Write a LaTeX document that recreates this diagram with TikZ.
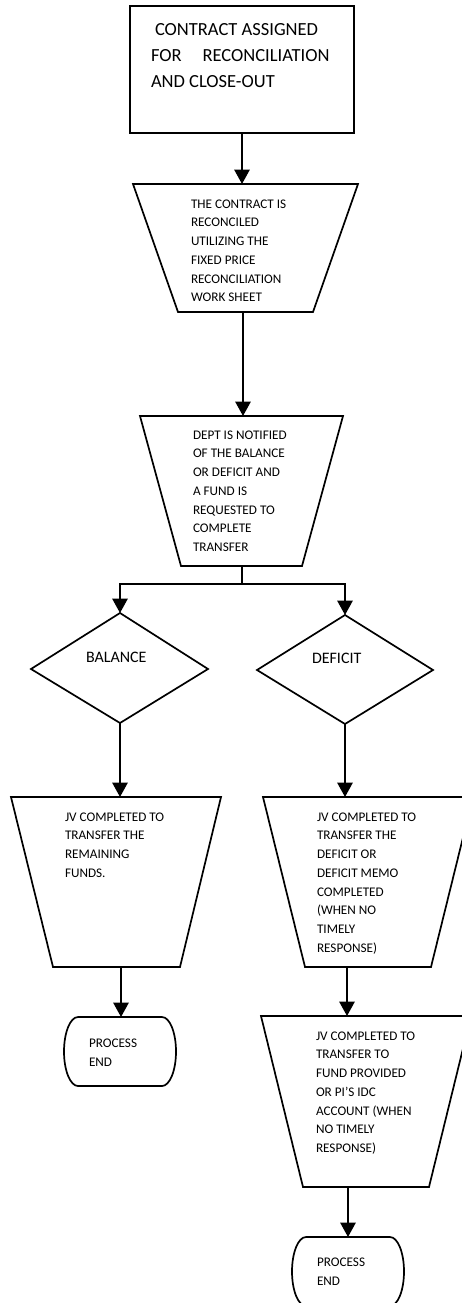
\documentclass[tikz,border=0pt]{standalone}
\usepackage{fontspec}
\setmainfont{Carlito}
\usetikzlibrary{arrows.meta}
\tikzset{
  shapeline/.style={line width=1.7pt, line join=miter},
  conn/.style={line width=1.7pt, -{Triangle[width=15.5pt,length=14.5pt]}},
  plainconn/.style={line width=1.7pt},
  smalltxt/.style={anchor=north west, inner sep=0pt, outer sep=0pt, align=left, font=\fontsize{13.2}{18.7}\selectfont},
  endtxt/.style={anchor=north west, inner sep=0pt, outer sep=0pt, align=left, font=\fontsize{13.2}{18.2}\selectfont},
  bigtxt/.style={anchor=north west, inner sep=0pt, outer sep=0pt, align=left, font=\fontsize{18.5}{26}\selectfont},
  dtxt/.style={anchor=north west, inner sep=0pt, outer sep=0pt, font=\fontsize{16}{19}\selectfont},
  startbox/.style={draw, line width=1.7pt, minimum width=224pt, minimum height=127pt, inner sep=0pt, outer sep=0pt},
}
\begin{document}
\begin{tikzpicture}[x=1pt, y=-1pt]
\clip (0,0) rectangle (462,1303);
\fill[white] (0,0) rectangle (462,1303);

% start box
\node[startbox] (start) at (242,69.5) {};
\node[bigtxt] (starttxt) at (151,23) {\hspace{4pt}CONTRACT ASSIGNED\\FOR\hspace{21pt}RECONCILIATION\\AND CLOSE-OUT};

% trapezoid 1
\draw[shapeline] (133,184) -- (358,184) -- (313,312) -- (178,312) -- cycle;
\coordinate (t1n) at (243,184);
\coordinate (t1s) at (243,312);
\node[smalltxt] (t1txt) at (191,199.7) {THE CONTRACT IS\\RECONCILED\\UTILIZING THE\\FIXED PRICE\\RECONCILIATION\\WORK SHEET};

% trapezoid 2
\draw[shapeline] (140,416) -- (343,416) -- (302,566) -- (181,566) -- cycle;
\coordinate (t2n) at (243,416);
\coordinate (t2s) at (242,566);
\node[smalltxt] (t2txt) at (193,430.7) {DEPT IS NOTIFIED\\OF THE BALANCE\\OR DEFICIT AND\\A FUND IS\\REQUESTED TO\\COMPLETE\\TRANSFER};
\coordinate (split) at (242,584);

% diamonds
\draw[shapeline] (120,613) -- (208,669) -- (120,723) -- (31,669) -- cycle;
\coordinate (baln) at (120,613);
\coordinate (bals) at (120,723);
\node[dtxt] (baltxt) at (86,651.7) {BALANCE};
\draw[shapeline] (345,615) -- (433,670) -- (345,724) -- (257,670) -- cycle;
\coordinate (defn) at (345,615);
\coordinate (defs) at (345,724);
\node[dtxt] (deftxt) at (312,652.7) {DEFICIT};

% trapezoid 3 left
\draw[shapeline] (11,797) -- (221,797) -- (180,967) -- (53,967) -- cycle;
\coordinate (t3ln) at (120,797);
\coordinate (t3ls) at (121,967);
\node[smalltxt] (t3ltxt) at (65,812.7) {JV COMPLETED TO\\TRANSFER THE\\REMAINING\\FUNDS.};

% trapezoid 3 right
\draw[shapeline] (263,797) -- (473,797) -- (431,967) -- (305,967) -- cycle;
\coordinate (t3rn) at (345,797);
\coordinate (t3rs) at (347,967);
\node[smalltxt] (t3rtxt) at (317,812.7) {JV COMPLETED TO\\TRANSFER THE\\DEFICIT OR\\DEFICIT MEMO\\COMPLETED\\(WHEN NO\\TIMELY\\RESPONSE)};

% trapezoid 4 right
\draw[shapeline] (261,1016) -- (471,1016) -- (429,1187) -- (303,1187) -- cycle;
\coordinate (t4n) at (347,1016);
\coordinate (t4s) at (348,1187);
\node[smalltxt] (t4txt) at (316,1031.7) {JV COMPLETED TO\\TRANSFER TO\\FUND PROVIDED\\OR PI’S IDC\\ACCOUNT (WHEN\\NO TIMELY\\RESPONSE)};

% process end left
\draw[shapeline] (78,1017) -- (162,1017) arc[start angle=90, end angle=-90, x radius=14pt, y radius=34.5pt] -- (78,1086) arc[start angle=270, end angle=90, x radius=14pt, y radius=34.5pt] -- cycle;
\coordinate (pe1n) at (121,1017);
\node[endtxt] (pe1txt) at (89,1039.3) {PROCESS\\END};

% process end right
\draw[shapeline] (306,1237) -- (390,1237) arc[start angle=90, end angle=-90, x radius=14pt, y radius=34.5pt] -- (306,1306) arc[start angle=270, end angle=90, x radius=14pt, y radius=34.5pt] -- cycle;
\coordinate (pe2n) at (348,1237);
\node[endtxt] (pe2txt) at (317,1258.3) {PROCESS\\END};

% connectors
\draw[conn] (start.south) -- (start.south |- t1n);
\draw[conn] (t1s) -- (t2n);
\draw[plainconn] (t2s) -- (split);
\draw[conn] (split) -| (baln);
\draw[conn] (split) -| (defn);
\draw[conn] (bals) -- (t3ln);
\draw[conn] (defs) -- (t3rn);
\draw[conn] (t3ls) -- (pe1n);
\draw[conn] (t3rs) -- (t4n);
\draw[conn] (t4s) -- (pe2n);
\end{tikzpicture}
\end{document}
